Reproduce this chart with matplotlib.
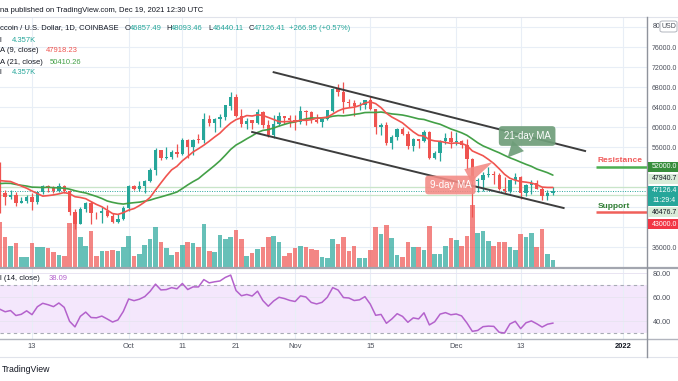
import matplotlib
matplotlib.use("Agg")
import matplotlib.pyplot as plt
import matplotlib.dates as mdates
import matplotlib.transforms as mtransforms
from matplotlib.patches import Rectangle, FancyBboxPatch
from matplotlib.lines import Line2D
import numpy as np
import pandas as pd

plt.rcParams['font.family'] = ['Liberation Sans', 'DejaVu Sans']

# ---------------- data (BTC/USD daily, Coinbase) ----------------
start_date = "2021-09-07"
end_date = "2021-12-19"

opens = [52698, 46863, 46048, 46400, 44850, 45160, 46060, 44960, 47100, 48140, 47770, 47300, 48300, 47260,
         43000, 40700, 43570, 44900, 42840, 42720, 43210, 42180, 41030, 41540,
         43790, 48160, 47660, 48230, 49240, 51500, 55340, 53800, 53970, 54960, 54680, 57480, 56000, 57370,
         57350, 61670, 60880, 61530, 62020, 64300, 66000, 62210, 60690, 61300, 60860, 63080, 60330, 58450,
         60590, 62270, 61880,
         61320, 61000, 63230, 62940, 61440, 61010, 61530, 63300, 67550, 66940, 64950, 64830, 64160, 64400,
         65500, 63600, 60100, 60360, 56900, 58100, 59700, 58700, 56300, 57570, 57170, 58960, 53730, 54720,
         57270, 57800,
         56950, 57200, 56500, 53600, 49150, 49400, 50440, 50590, 50470, 47545, 47140, 49390, 50100, 46710,
         48340, 48860, 47630, 46130, 46857.49]
highs = [52920, 47350, 47400, 47040, 45970, 46450, 46880, 47260, 48450, 48500, 48150, 48820, 48370, 47330,
         43630, 44000, 44980, 45200, 42970, 43940, 44350, 42780, 42600, 44130,
         48500, 48350, 49250, 49500, 51890, 55750, 55340, 56100, 55480, 56560, 57840, 57680, 57600, 58550,
         62900, 62320, 61720, 62620, 64480, 66990, 66640, 63700, 61750, 61500, 63700, 63280, 61480, 62500,
         62950, 62270, 62400,
         62430, 64270, 63500, 63120, 62600, 61550, 63300, 67790, 68530, 69000, 65600, 65500, 64950, 65500,
         66300, 63600, 60800, 60950, 58370, 59800, 60000, 59300, 57850, 57700, 59400, 59130, 55300, 57400,
         58850, 59200,
         59000, 57400, 57600, 53860, 49720, 50930, 51940, 51200, 50800, 50100, 49485, 50780, 50190, 48700,
         49500, 49440, 48000, 47360, 48093.46]
lows = [42843, 44412, 45510, 44140, 44740, 44750, 43370, 44700, 46700, 47040, 46750, 47060, 46850, 42500,
        39600, 40560, 43100, 40700, 41680, 40800, 42100, 40900, 40800, 41430,
        43300, 47440, 47150, 46900, 49050, 50400, 53400, 53650, 53700, 54100, 54420, 53880, 54400, 56850,
        56850, 60150, 58950, 60100, 61320, 63500, 62000, 60000, 59700, 59550, 60700, 59880, 58100, 57820,
        60200, 60700, 60050,
        59500, 60700, 60380, 60800, 60750, 60100, 61350, 63100, 66300, 62800, 64100, 62300, 63400, 63600,
        63500, 58600, 58400, 56500, 55600, 57400, 58500, 55700, 55300, 55900, 57000, 53600, 53650, 53300,
        56700, 55900,
        56500, 55800, 51700, 42000, 47100, 47280, 50040, 48640, 47330, 46850, 46750, 48660, 45700, 46300,
        46550, 47510, 45460, 45500, 46440.11]
closes = [46863, 46048, 46400, 44850, 45160, 46060, 44960, 47100, 48140, 47770, 47300, 48300, 47260, 43000,
          40700, 43570, 44900, 42840, 42720, 43210, 42180, 41030, 41540, 43790,
          48160, 47660, 48230, 49240, 51500, 55340, 53800, 53970, 54960, 54680, 57480, 56000, 57370, 57350,
          61670, 60880, 61530, 62020, 64300, 66000, 62210, 60690, 61300, 60860, 63080, 60330, 58450, 60590,
          62270, 61880, 61320,
          61000, 63230, 62940, 61440, 61010, 61530, 63300, 67550, 66940, 64950, 64830, 64160, 64400, 65500,
          63600, 60100, 60360, 56900, 58100, 59700, 58700, 56300, 57570, 57170, 58960, 53730, 54720, 57270,
          57800, 56950,
          57200, 56500, 53600, 49150, 49400, 50440, 50590, 50470, 47545, 47140, 49390, 50100, 46710, 48340,
          48860, 47630, 46130, 46857.49, 47126.41]
volumes_k = [25.0, 16.8, 12.0, 13.6, 6.0, 6.0, 13.6, 11.4, 11.4, 10.9, 8.7, 7.1, 6.5, 24.5, 27.2, 16.8,
             12.0, 20.1, 6.5, 9.2, 9.2, 9.8, 9.2, 11.4,
             17.4, 6.5, 7.6, 12.5, 15.8, 22.3, 14.1, 10.9, 7.1, 8.7, 12.5, 14.1, 13.6, 11.4, 23.9, 9.2,
             8.7, 17.9, 15.8, 16.8, 20.7, 15.8, 6.5, 8.2, 10.3, 11.4, 16.8, 17.4, 14.1, 6.5, 8.2,
             10.9, 12.0, 11.4, 10.3, 9.8, 6.0, 5.4, 15.8, 13.0, 16.8, 9.2, 12.0, 5.4, 5.4, 9.8, 22.3,
             18.5, 23.4, 16.3, 7.1, 6.0, 14.1, 11.4, 11.4, 9.8, 22.8, 7.6, 7.6, 12.0, 16.3,
             15.2, 12.0, 17.4, 34.2, 19.0, 20.1, 14.7, 12.0, 14.1, 14.1, 11.4, 9.8, 18.5, 16.8, 19.0,
             11.4, 21.2, 7.6, 4.357]
# closes before the visible window (Aug 17 - Sep 6), needed for the moving averages / RSI
pre_closes = [44695, 44711, 46760, 49339, 48867, 49284, 49506, 47682, 48987, 46851, 49077, 48942, 48803,
              46993, 47130, 48839, 49279, 50025, 49942, 51789, 52698]

ma_short, ma_long, rsi_len = 9, 21, 14

channel_upper_dates = ["2021-10-28", "2021-12-25"]
channel_upper_prices = [70960, 55200]
channel_lower_dates = ["2021-10-24", "2021-12-21"]
channel_lower_prices = [59000, 43800]

resistance_level = 52000
support_level = 43000
hline_levels = [47940.7, 46476.7]
last_price = 47126.41

tick_dates = ["2021-09-13", "2021-10-01", "2021-10-11", "2021-10-21", "2021-11-01",
              "2021-11-15", "2021-12-01", "2021-12-13", "2022-01-01"]
tick_labels = ["13", "Oct", "11", "21", "Nov", "15", "Dec", "13", "2022"]
grid_prices = list(range(36000, 84000, 4000))
price_ticks = [36000, 56000, 60000, 64000, 68000, 72000, 76000]
rsi_ticks = [40, 60, 80]

# ---------------- derived series ----------------
dates = pd.date_range(start_date, end_date, freq="D")
x = mdates.date2num(dates)
all_close = pd.Series(pre_closes + closes, dtype=float)
n = len(closes)
ma9 = all_close.rolling(ma_short).mean().values[-n:]
ma21 = all_close.rolling(ma_long).mean().values[-n:]

delta = all_close.diff().values[1:]
gains = np.clip(delta, 0, None)
losses = np.clip(-delta, 0, None)
ag = gains[:rsi_len].mean()
al = losses[:rsi_len].mean()
rsi_all = [np.nan] * rsi_len
rsi_all.append(100 - 100 / (1 + ag / al))
for g, l in zip(gains[rsi_len:], losses[rsi_len:]):
    ag = (ag * (rsi_len - 1) + g) / rsi_len
    al = (al * (rsi_len - 1) + l) / rsi_len
    rsi_all.append(100 - 100 / (1 + ag / al))
rsi = np.array(rsi_all)[-n:]

# ---------------- figure / layout ----------------
W, H = 678, 381
def fx(px): return px / W
def fy(py): return 1 - py / H

UP, DOWN = "#26a69a", "#ef5350"
GRID = "#e8eef6"
TXT = "#131722"
AX_TXT = "#4a4e59"
AX_FS = 5.0

fig = plt.figure(figsize=(W / 100, H / 100), dpi=100, facecolor="white")
AXR = 647
ax = fig.add_axes([0, fy(268), fx(AXR), (268 - 17) / H])
axr = fig.add_axes([0, fy(339), fx(AXR), (339 - 268) / H])

x0 = mdates.date2num(pd.Timestamp("2021-09-13"))
xlim = (x0 - 5.96, x0 + 114.53)

for a in (ax, axr):
    for s in a.spines.values():
        s.set_visible(False)
    a.set_xlim(*xlim)
    for td in tick_dates:
        a.axvline(mdates.date2num(pd.Timestamp(td)), color=GRID, lw=0.8, zorder=0.2)

ax.set_ylim(31800, 82000)
for gp in grid_prices:
    ax.axhline(gp, color=GRID, lw=0.8, zorder=0.2)

# volume (own scale in bottom of main pane)
VOL_TOP = 136.4
vol_trans = mtransforms.blended_transform_factory(
    ax.transData, mtransforms.Affine2D().scale(1, 1 / VOL_TOP) + ax.transAxes)
up_mask = np.array(closes) >= np.array(opens)
vcolors = [UP if u else DOWN for u in up_mask]
ax.bar(x, volumes_k, width=0.86, color=vcolors, alpha=0.7, transform=vol_trans, zorder=1, linewidth=0)

# horizontal reference lines
for hl in hline_levels:
    ax.axhline(hl, color="#c9e5c9", lw=0.9, zorder=1.5)
ax.axhline(last_price, color=UP, lw=0.7, ls=(0, (1, 1.5)), zorder=1.6)

# candles
ccolors = [UP if u else DOWN for u in up_mask]
ax.vlines(x, lows, highs, colors=ccolors, lw=0.9, zorder=3)
bodies = np.maximum(np.abs(np.array(closes) - np.array(opens)), 180)
bottoms = np.minimum(opens, closes)
ax.bar(x, bodies, bottom=bottoms, width=0.62, color=ccolors, linewidth=0, zorder=3.1)

# moving averages
ax.plot(x, ma9, color="#f0544f", lw=1.2, zorder=3.5, solid_capstyle="round")
ax.plot(x, ma21, color="#43a047", lw=1.2, zorder=3.4, solid_capstyle="round")

# channel
ax.plot(mdates.date2num(pd.to_datetime(channel_upper_dates)), channel_upper_prices, color="#3d3d3d", lw=1.4, zorder=4)
ax.plot(mdates.date2num(pd.to_datetime(channel_lower_dates)), channel_lower_prices, color="#3d3d3d", lw=1.4, zorder=4)

# resistance / support
rs_x = mdates.date2num(pd.Timestamp("2021-12-27"))
ax.plot([rs_x, xlim[1]], [resistance_level] * 2, color="#4caf50", lw=1.8, zorder=4, solid_capstyle="butt")
ax.plot([rs_x, xlim[1]], [support_level] * 2, color="#f0605a", lw=1.8, zorder=4, solid_capstyle="butt")
ax.text(rs_x + 0.3, 53300, "Resistance", color="#f05a5a", fontsize=6, fontweight="bold", va="center", ha="left", zorder=5)
ax.text(rs_x + 0.3, 44200, "Support", color="#2e7d32", fontsize=6, fontweight="bold", va="center", ha="left", zorder=5)

# callouts
g_col = "#6f9e7a"
ax.annotate("21-day MA", xy=(mdates.date2num(pd.Timestamp("2021-12-10 14:00")), 53900),
            xytext=(mdates.date2num(pd.Timestamp("2021-12-14 05:00")), 58200), textcoords="data",
            ha="center", va="center", color="white", fontsize=7, zorder=6,
            bbox=dict(boxstyle="round,pad=0.5,rounding_size=0.35", fc=g_col, ec="none", alpha=0.92),
            arrowprops=dict(arrowstyle="wedge,tail_width=1.6,shrink_factor=0.5", fc=g_col, ec="none",
                            alpha=0.92, shrinkA=0, shrinkB=0))
r_col = "#f38a84"
ax.annotate("9-day MA", xy=(mdates.date2num(pd.Timestamp("2021-12-07 20:00")), 53000),
            xytext=(mdates.date2num(pd.Timestamp("2021-11-29 22:00")), 48400), textcoords="data",
            ha="center", va="center", color="white", fontsize=7, zorder=6,
            bbox=dict(boxstyle="round,pad=0.45,rounding_size=0.35", fc=r_col, ec="none", alpha=0.88),
            arrowprops=dict(arrowstyle="wedge,tail_width=1.5,shrink_factor=0.5", fc=r_col, ec="none",
                            alpha=0.88, shrinkA=0, shrinkB=0))

# price axis labels
ax.yaxis.tick_right()
ax.set_yticks(price_ticks)
ax.set_yticklabels([f"{v:.1f}" for v in price_ticks])
ax.tick_params(axis="y", length=0, pad=3.6, labelsize=AX_FS, labelcolor=AX_TXT)
ax.tick_params(axis="x", length=0, labelbottom=False)

# RSI pane
axr.set_ylim(25, 84.17)
axr.axhspan(30, 70, color="#f4e7fc", zorder=0.1, lw=0)
for rt in rsi_ticks:
    axr.axhline(rt, color="#e9e4f2", lw=0.7, zorder=0.3)
for lvl in (70, 30):
    axr.axhline(lvl, color="#a8abb5", lw=0.8, ls=(0, (3, 3)), zorder=0.4)
axr.plot(x, rsi, color="#b462cc", lw=1.1, zorder=2)
axr.yaxis.tick_right()
axr.set_yticks(rsi_ticks)
axr.set_yticklabels([f"{v:.2f}" for v in rsi_ticks])
axr.tick_params(axis="y", length=0, pad=4.3, labelsize=5.2, labelcolor=AX_TXT)
axr.set_xticks(mdates.date2num(pd.to_datetime(tick_dates)))
axr.set_xticklabels(tick_labels)
axr.tick_params(axis="x", length=0, pad=3.2, labelsize=5.4, labelcolor=AX_TXT)
axr.get_xticklabels()[-1].set_fontweight("bold")
axr.get_xticklabels()[-1].set_color(TXT)

# frame lines
def hline_px(y, x0p, x1p, color, lw):
    fig.add_artist(Line2D([fx(x0p), fx(x1p)], [fy(y), fy(y)], transform=fig.transFigure, color=color, lw=lw))
hline_px(17, 0, W, "#e0e3eb", 0.8)
hline_px(268, 0, W, "#a3a6af", 1.6)
hline_px(339, 0, W, "#b2b5be", 1.0)
hline_px(357, 0, W, "#e0e3eb", 0.8)
fig.add_artist(Line2D([fx(AXR), fx(AXR)], [fy(17), fy(357)], transform=fig.transFigure, color="#8f939c", lw=1.0))

# right-axis value boxes (text as visible in the cropped scale)
def axis_box(y0, y1, fc, lines, tc):
    fig.add_artist(Rectangle((fx(AXR + 0.5), fy(y1)), fx(W - AXR), (y1 - y0) / H, transform=fig.transFigure,
                             fc=fc, ec="none", zorder=10))
    k = len(lines)
    for i, t in enumerate(lines):
        yc = y0 + (y1 - y0) * (i + 0.5) / k
        fig.text(fx(652), fy(yc), t, fontsize=AX_FS, color=tc, va="center", ha="left", zorder=11)
axis_box(162, 172, "#388e3c", ["52000.0"], "white")
axis_box(174, 184, "#d9ecd9", ["47940.7"], TXT)
axis_box(186, 206, "#26a69a", ["47126.4", "11:29:4"], "white")
axis_box(207, 217, "#d9ecd9", ["46476.7"], TXT)
axis_box(219, 229, "#f23645", ["43000.0"], "white")

# top price label partly hidden behind the USD badge
fig.text(fx(652.5), fy(26.5), "80", fontsize=AX_FS, color=AX_TXT, va="center", ha="left")
fig.add_artist(FancyBboxPatch((fx(660), fy(32)), fx(17), 11 / H, boxstyle="round,pad=0,rounding_size=0.004",
                              transform=fig.transFigure, fc="white", ec="#b2b5be", lw=0.7, zorder=12))
fig.text(fx(661.5), fy(26.5), "USD", fontsize=AX_FS, color=AX_TXT, va="center", ha="left", zorder=13)

# header / legend texts
fig.text(fx(0), fy(10), "na published on TradingView.com, Dec 19, 2021 12:30 UTC", fontsize=5.5, color=TXT, va="center")
fig.text(fx(0), fy(28), "ccoin / U.S. Dollar, 1D, COINBASE", fontsize=5.5, color=TXT, va="center")
for xp, lab, val in [(125, "O", "46857.49"), (166, "H", "48093.46"), (208, "L", "46440.11"), (249, "C", "47126.41")]:
    fig.text(fx(xp), fy(28), lab, fontsize=5.5, color=TXT, va="center")
    fig.text(fx(xp + 4.8), fy(28), val, fontsize=5.5, color=UP, va="center")
fig.text(fx(289), fy(28), "+266.95 (+0.57%)", fontsize=5.5, color=UP, va="center")
fig.text(fx(0), fy(40), "l", fontsize=5.5, color=TXT, va="center")
fig.text(fx(12), fy(40), "4.357K", fontsize=5.5, color=UP, va="center")
fig.text(fx(0), fy(51), "A (9, close)", fontsize=5.5, color=TXT, va="center")
fig.text(fx(46), fy(51), "47918.23", fontsize=5.5, color="#f0544f", va="center")
fig.text(fx(0), fy(62), "A (21, close)", fontsize=5.5, color=TXT, va="center")
fig.text(fx(50), fy(62), "50410.26", fontsize=5.5, color="#43a047", va="center")
fig.text(fx(0), fy(73), "l", fontsize=5.5, color=TXT, va="center")
fig.text(fx(12), fy(73), "4.357K", fontsize=5.5, color=UP, va="center")
fig.text(fx(0), fy(278), "l (14, close)", fontsize=5.5, color=TXT, va="center")
fig.text(fx(49), fy(278), "38.09", fontsize=5.5, color="#b462cc", va="center")
fig.text(fx(2), fy(369), "TradingView", fontsize=6.3, color=TXT, va="center")

fig.savefig("out.png", dpi=100, facecolor="white")
